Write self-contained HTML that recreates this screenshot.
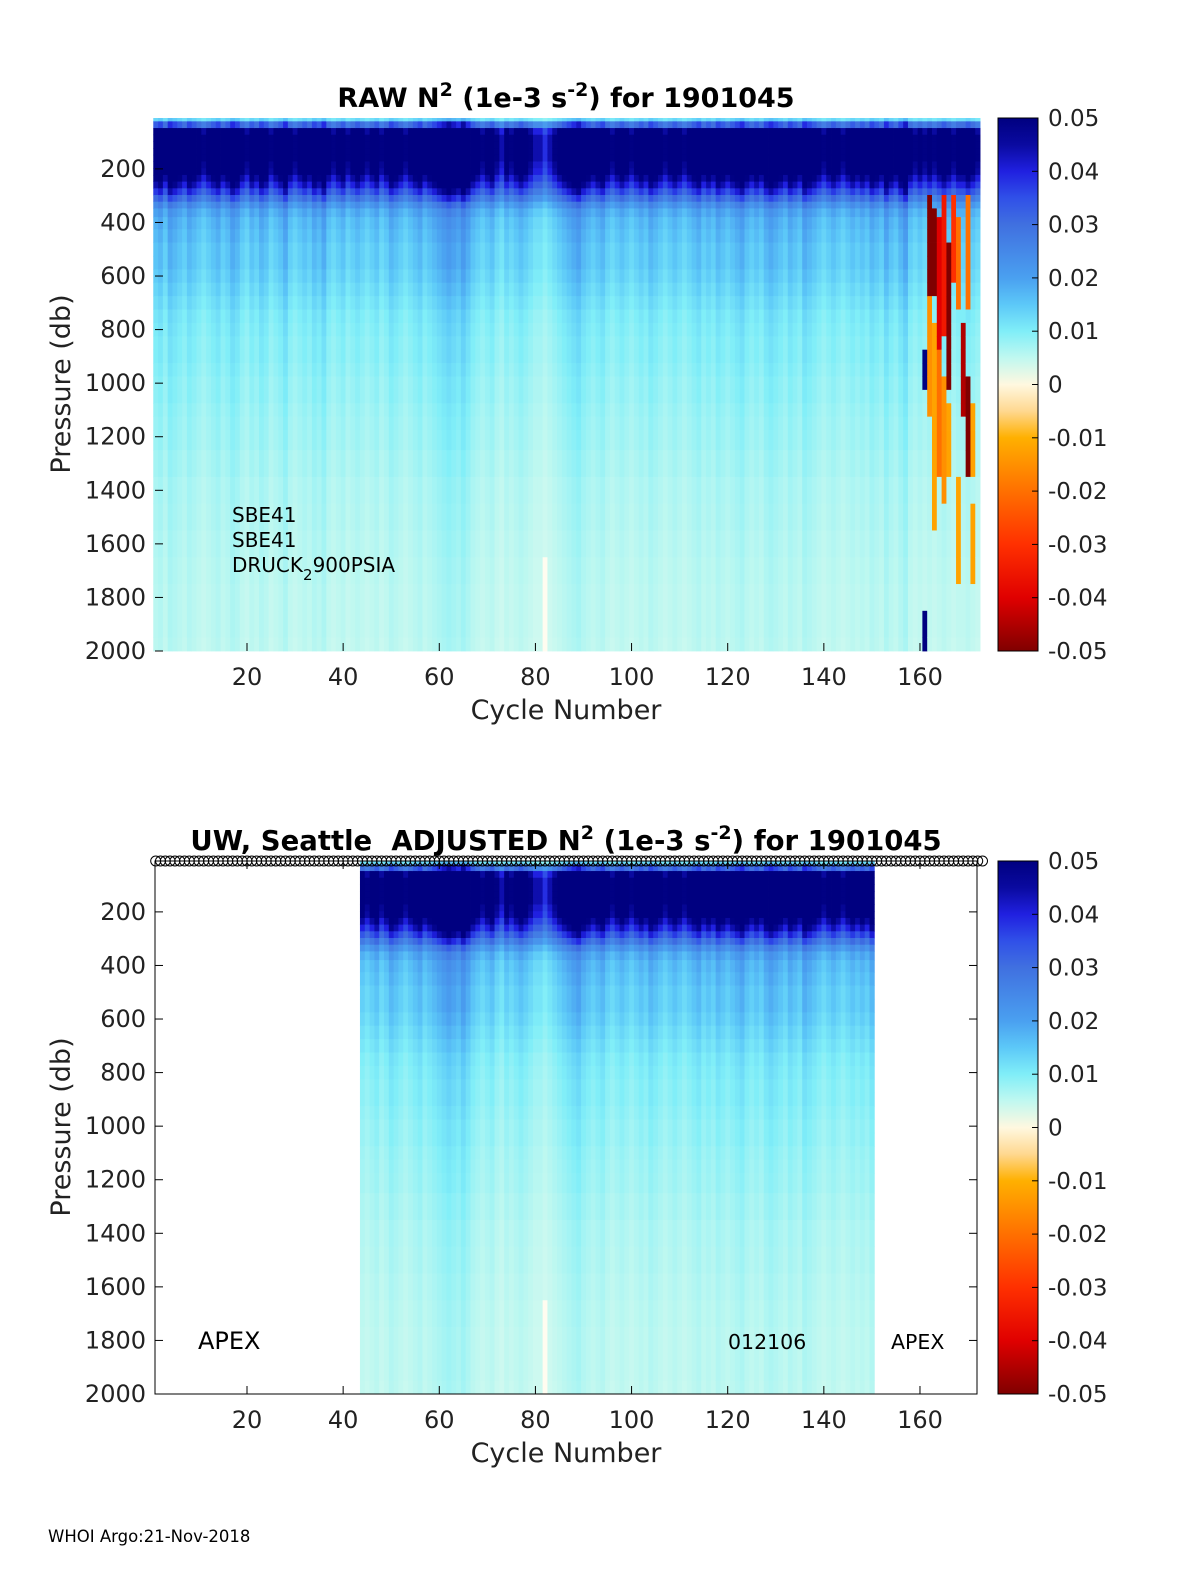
<!DOCTYPE html>
<html><head><meta charset="utf-8"><style>
body{margin:0;background:#fff;}
svg{display:block;font-family:"DejaVu Sans","Liberation Sans",sans-serif;}
</style></head><body>
<svg id="chart" width="1200" height="1575" viewBox="0 0 1200 1575" xmlns="http://www.w3.org/2000/svg">
<defs>
<linearGradient id="cbg" x1="0" y1="0" x2="0" y2="1">
<stop offset="0" stop-color="#000080"/><stop offset="0.05" stop-color="#0a0aa0"/><stop offset="0.1" stop-color="#2020e0"/><stop offset="0.15" stop-color="#3050e8"/><stop offset="0.2" stop-color="#4070e0"/><stop offset="0.3" stop-color="#4aa0f0"/><stop offset="0.35" stop-color="#5cc8f8"/><stop offset="0.4" stop-color="#80eef8"/><stop offset="0.45" stop-color="#c0f8f0"/><stop offset="0.5" stop-color="#fff8e0"/><stop offset="0.55" stop-color="#ffd890"/><stop offset="0.6" stop-color="#ffb000"/><stop offset="0.7" stop-color="#ff7000"/><stop offset="0.8" stop-color="#ff3000"/><stop offset="0.9" stop-color="#e00000"/><stop offset="1" stop-color="#800000"/>
</linearGradient>
</defs>
<g id="top"></g>
<g id="bot"></g>
<text x="566" y="107" text-anchor="middle" font-size="27" font-weight="bold">RAW N<tspan dy="-11" font-size="19">2</tspan><tspan dy="11"> (1e-3 s</tspan><tspan dy="-11" font-size="19">-2</tspan><tspan dy="11">) for 1901045</tspan></text>
<text x="566" y="850" text-anchor="middle" font-size="27.5" font-weight="bold">UW, Seattle&#160; ADJUSTED N<tspan dy="-11" font-size="19">2</tspan><tspan dy="11"> (1e-3 s</tspan><tspan dy="-11" font-size="19">-2</tspan><tspan dy="11">) for 1901045</tspan></text>
<text x="232" y="522" font-size="20">SBE41</text>
<text x="232" y="547" font-size="20">SBE41</text>
<text x="232" y="572" font-size="20">DRUCK<tspan dy="8" font-size="15">2</tspan><tspan dy="-8">900PSIA</tspan></text>
<text x="198" y="1349" font-size="24">APEX</text>
<text x="728" y="1349" font-size="20.5">012106</text>
<text x="891" y="1349" font-size="20.5">APEX</text>
<text x="48" y="1542" font-size="16.5">WHOI Argo:21-Nov-2018</text>
</svg>
<script>
// ---- data ----
const pressureBins = [10,35,60,85,110,135,160,185,210,235,260,285,310,335,360,400,450,500,550,600,650,700,750,800,850,900,950,1000,1050,1100,1150,1200,1300,1400,1500,1600,1700,1800,1900,2000];
const depthProfile = [0.012,0.03,0.05,0.055,0.055,0.055,0.055,0.052,0.05,0.045,0.04,0.034,0.028,0.022,0.018,0.016,0.015,0.014,0.014,0.013,0.012,0.011,0.010,0.0095,0.009,0.009,0.0085,0.008,0.008,0.0075,0.0072,0.007,0.0065,0.006,0.0058,0.0055,0.0052,0.005,0.005,0.0048];
const cycleFactor = [1.1,1.2,1.0,1.3,1.2,1.1,1.0,1.2,1.1,1.0,0.9,1.0,1.1,1.2,1.0,1.1,1.3,1.2,1.0,0.9,1.1,1.0,1.2,1.1,0.9,1.0,1.1,1.3,1.0,0.9,1.0,1.1,1.0,1.2,1.1,1.3,1.0,0.9,1.0,1.1,0.9,1.0,1.1,1.0,0.9,1.0,1.1,0.9,1.0,1.2,1.1,1.0,0.9,1.0,1.1,1.2,1.0,1.1,1.2,1.3,1.4,1.5,1.4,1.3,1.5,1.3,1.1,1.0,0.9,1.0,1.1,0.9,0.8,1.0,0.9,1.0,1.1,1.0,0.9,0.8,0.8,0.7,0.8,0.9,1.0,1.1,1.2,1.3,1.4,1.2,1.1,1.0,1.1,1.2,1.0,0.9,1.0,1.1,1.0,0.9,1.0,1.1,1.0,1.2,1.1,1.0,0.9,1.0,1.1,1.0,0.9,1.0,1.1,1.2,1.0,1.1,1.0,1.2,1.1,1.0,1.1,1.2,1.3,1.1,1.0,1.1,1.0,1.2,1.3,1.2,1.1,1.0,1.2,1.1,1.0,1.3,1.2,1.1,1.0,0.9,1.0,1.1,1.0,0.9,1.0,1.1,1.0,1.1,1.0,1.2,1.1,1.0,1.3,1.1,1.0,1.2,1.4,1.0,0.9,1.0,0.9,1.0,0.9,1.0,1.1,1.0,0.9,1.0,1.0,1.1,1.0,0.9,1.0,1.1,1.0];
// anomalies: [cycle, pressureMin, pressureMax, value]
const anomCycle = [82,161,161,162,162,163,163,163,164,164,165,165,166,166,167,168,168,169,170,170,171,171];
const anomPmin  = [1650,900,1850,300,700,350,800,1300,400,900,300,1000,500,1100,300,400,1400,800,300,1000,1100,1500];
const anomPmax  = [2000,1000,2000,650,1100,650,1200,1500,900,1300,800,1400,1000,1350,600,700,1700,1100,700,1300,1300,1700];
const anomValue = [0,0.05,0.05,-0.05,-0.015,-0.05,-0.012,-0.012,-0.04,-0.02,-0.035,-0.015,-0.05,-0.012,-0.03,-0.02,-0.012,-0.045,-0.02,-0.05,-0.012,-0.012];
const xTicks = [20,40,60,80,100,120,140,160];
const yTicks = [200,400,600,800,1000,1200,1400,1600,1800,2000];
const cbTicks = [0.05,0.04,0.03,0.02,0.01,0,-0.01,-0.02,-0.03,-0.04,-0.05];
const adjStart = 44, adjEnd = 150;

// ---- colormap ----
const cmap = [[0.05,[0,0,128]],[0.045,[10,10,160]],[0.04,[32,32,224]],[0.035,[48,80,232]],[0.03,[64,112,224]],[0.02,[74,160,240]],[0.015,[92,200,248]],[0.01,[128,238,248]],[0.005,[192,248,240]],[0,[255,252,240]],[-0.005,[255,216,144]],[-0.01,[255,176,0]],[-0.02,[255,112,0]],[-0.03,[255,48,0]],[-0.04,[224,0,0]],[-0.05,[128,0,0]]];
function color(v){
  if(!isFinite(v))v=0.01;
  v=Math.max(-0.05,Math.min(0.05,v));
  for(let i=0;i<cmap.length-1;i++){
    const [a,ca]=cmap[i],[b,cb]=cmap[i+1];
    if(v<=a&&v>=b){const t=(a-v)/(a-b);return 'rgb('+ca.map((c,k)=>Math.round(c+(cb[k]-c)*t)).join(',')+')';}
  }
  return 'rgb(128,0,0)';
}
const NS='http://www.w3.org/2000/svg';
function mk(tag,attrs,parent){const e=document.createElementNS(NS,tag);for(const k in attrs)e.setAttribute(k,attrs[k]);parent.appendChild(e);return e;}

function valueAt(c,r){
  const f=cycleFactor[c-1]!==undefined?cycleFactor[c-1]:1.0;
  let v=depthProfile[r]*f;
  const p=pressureBins[r];
  for(let i=0;i<anomCycle.length;i++){
    if(anomCycle[i]===c&&p>=anomPmin[i]&&p<=anomPmax[i])v=anomValue[i];
  }
  return v;
}

function panel(g,top,adjusted){
  const bottom=top+533;
  const xs=c=>247+(c-20)*4.807;
  const ys=p=>top+(p-10)/1990*533;
  const cells=mk('g',{},g);
  
  
  const c0=adjusted?adjStart:1, c1=adjusted?adjEnd:172;
  for(let c=c0;c<=c1;c++){
    for(let r=0;r<pressureBins.length;r++){
      const p0=r===0?10:(pressureBins[r-1]+pressureBins[r])/2;
      const p1=r===pressureBins.length-1?2000:(pressureBins[r]+pressureBins[r+1])/2;
      const x0=xs(c-0.5),x1=xs(c+0.5);
      const rc=mk('rect',{x:x0.toFixed(2),y:ys(p0).toFixed(2),width:(x1-x0+0.4).toFixed(2),height:(ys(p1)-ys(p0)+0.4).toFixed(2),fill:color(valueAt(c,r))},cells);
      
      
    }
  }
  if(adjusted){
    const fr=mk('rect',{x:155,y:top,width:822,height:533,fill:'none',stroke:'#000','stroke-width':1},g);
    
    
    const circ=mk('g',{fill:'none',stroke:'#000','stroke-width':1},g);
    
    
    for(let c=1;c<=173;c++){
      const ci=mk('circle',{cx:xs(c).toFixed(1),cy:top,r:5},circ);
      
      
    }
  }
  xTicks.forEach(t=>{
    const x=xs(t);
    mk('line',{x1:x,x2:x,y1:bottom,y2:bottom-8,stroke:'#000'},g);
    if(adjusted)mk('line',{x1:x,x2:x,y1:top,y2:top+8,stroke:'#000'},g);
    const tx=mk('text',{x:x,y:bottom+34,'text-anchor':'middle','font-size':24,fill:'#222'},g);
    tx.textContent=t;
    
    
  });
  yTicks.forEach(t=>{
    const y=ys(t);
    mk('line',{x1:155,x2:163,y1:y,y2:y,stroke:'#000'},g);
    if(adjusted)mk('line',{x1:977,x2:969,y1:y,y2:y,stroke:'#000'},g);
    const tx=mk('text',{x:146,y:y+8,'text-anchor':'end','font-size':24,fill:'#222'},g);
    tx.textContent=t;
    
    
  });
  const xl=mk('text',{x:566,y:bottom+68,'text-anchor':'middle','font-size':27,fill:'#222'},g);
  xl.textContent='Cycle Number';
  
  
  const yl=mk('text',{x:0,y:0,'text-anchor':'middle','font-size':27,fill:'#222',transform:'translate(70,'+(top+266)+') rotate(-90)'},g);
  yl.textContent='Pressure (db)';
  
  
  const cb=mk('rect',{x:998,y:top,width:40,height:533,fill:'url(#cbg)',stroke:'#000','stroke-width':1},g);
  
  
  cbTicks.forEach(t=>{
    const y=top+(0.05-t)/0.1*533;
    mk('line',{x1:1038,x2:1032,y1:y,y2:y,stroke:'#000'},g);
    const tx=mk('text',{x:1048,y:y+8,'font-size':23,fill:'#222'},g);
    tx.textContent=(t===0?'0':t.toFixed(2));
    
    
  });
}
panel(document.getElementById('top'),118,false);
panel(document.getElementById('bot'),861,true);
</script>
</body></html>
